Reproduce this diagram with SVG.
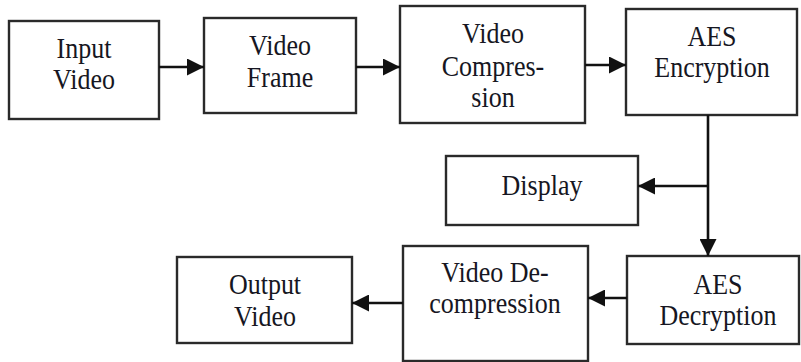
<svg xmlns="http://www.w3.org/2000/svg" width="801" height="362" viewBox="0 0 801 362">
  <style>
    .box { fill: #ffffff; stroke: #2a2a2a; stroke-width: 2.4; }
    .lbl { font-family: "Liberation Serif", "Times New Roman", serif; font-size: 26px; fill: #161622; text-anchor: middle; }
    .wire { fill: none; stroke: #111111; stroke-width: 2.6; }
  </style>
  <defs>
    <marker id="head" viewBox="0 0 10 10" refX="10" refY="5" markerWidth="17" markerHeight="17" markerUnits="userSpaceOnUse" orient="auto">
      <path d="M0,0 L10,5 L0,10 Z" fill="#111111"/>
    </marker>
  </defs>
  <rect width="801" height="362" fill="#ffffff"/>

  <!-- labels are set in a slightly tall face: each line is stretched 1.15x vertically about its baseline -->
  <g id="input-video">
    <rect class="box" x="9" y="21" width="150" height="98"/>
    <text class="lbl" transform="matrix(1 0 0 1.15 84 58)">Input</text>
    <text class="lbl" transform="matrix(1 0 0 1.15 84 89)">Video</text>
  </g>

  <g id="video-frame">
    <rect class="box" x="204" y="18" width="152" height="95"/>
    <text class="lbl" transform="matrix(1 0 0 1.15 280 55)">Video</text>
    <text class="lbl" transform="matrix(1 0 0 1.15 280 87)">Frame</text>
  </g>

  <g id="video-compression">
    <rect class="box" x="400" y="6" width="185" height="117"/>
    <text class="lbl" transform="matrix(1 0 0 1.15 493 43)">Video</text>
    <text class="lbl" transform="matrix(1 0 0 1.15 493 76)">Compres-</text>
    <text class="lbl" transform="matrix(1 0 0 1.15 493 107)">sion</text>
  </g>

  <g id="aes-encryption">
    <rect class="box" x="626" y="9" width="171" height="106"/>
    <text class="lbl" transform="matrix(1 0 0 1.15 712 46)">AES</text>
    <text class="lbl" transform="matrix(1 0 0 1.15 712 77)">Encryption</text>
  </g>

  <g id="display">
    <rect class="box" x="446" y="156" width="192" height="69"/>
    <text class="lbl" transform="matrix(1 0 0 1.15 542 195)">Display</text>
  </g>

  <g id="aes-decryption">
    <rect class="box" x="627" y="256" width="172" height="88"/>
    <text class="lbl" transform="matrix(1 0 0 1.15 718 294)">AES</text>
    <text class="lbl" transform="matrix(1 0 0 1.15 718 325)">Decryption</text>
  </g>

  <g id="video-decompression">
    <rect class="box" x="403" y="246" width="185" height="115"/>
    <text class="lbl" transform="matrix(1 0 0 1.15 495 282)">Video De-</text>
    <text class="lbl" transform="matrix(1 0 0 1.15 495 313)">compression</text>
  </g>

  <g id="output-video">
    <rect class="box" x="177" y="257" width="175" height="86"/>
    <text class="lbl" transform="matrix(1 0 0 1.15 265 294)">Output</text>
    <text class="lbl" transform="matrix(1 0 0 1.15 265 326)">Video</text>
  </g>

  <g id="connectors">
    <line class="wire" x1="159" y1="67" x2="204" y2="67" marker-end="url(#head)"/>
    <line class="wire" x1="356" y1="67" x2="400" y2="67" marker-end="url(#head)"/>
    <line class="wire" x1="585" y1="65" x2="626" y2="65" marker-end="url(#head)"/>
    <line class="wire" x1="708" y1="115" x2="708" y2="256" marker-end="url(#head)"/>
    <line class="wire" x1="708" y1="186" x2="638" y2="186" marker-end="url(#head)"/>
    <line class="wire" x1="627" y1="298" x2="588" y2="298" marker-end="url(#head)"/>
    <line class="wire" x1="403" y1="303" x2="352" y2="303" marker-end="url(#head)"/>
  </g>
</svg>
